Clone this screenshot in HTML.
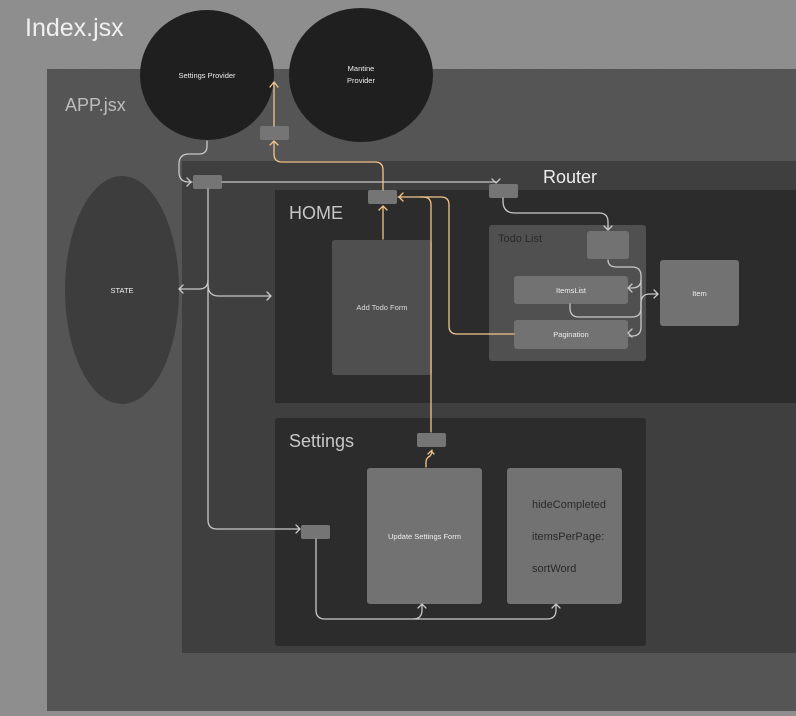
<!DOCTYPE html>
<html><head><meta charset="utf-8"><style>
html,body{margin:0;padding:0;}
body{width:796px;height:716px;position:relative;overflow:hidden;background:#8e8e8e;
background-image:radial-gradient(#858585 0.7px,transparent 0.8px);background-size:12px 12px;
font-family:"Liberation Sans",sans-serif;}
.a{position:absolute;box-sizing:border-box;}
.t{position:absolute;white-space:nowrap;}
.box{border-radius:3px;background:#727272;}
.sm{border-radius:2px;background:#757575;}
.lbl{display:flex;align-items:center;justify-content:center;color:#eee;font-size:7.5px;text-align:center;}
</style></head><body>
<div class="t" style="left:25px;top:14px;font-size:25px;color:#f0f0f0;">Index.jsx</div>
<div class="a" style="left:47px;top:69px;width:760px;height:642px;background:#555;"></div>
<div class="t" style="left:65px;top:95px;font-size:18px;color:#bdbdbd;">APP.jsx</div>
<div class="a" style="left:182px;top:161px;width:620px;height:492px;background:#3f3f3f;"></div>
<div class="t" style="left:543px;top:167px;font-size:18px;color:#eee;">Router</div>
<div class="a" style="left:275px;top:190px;width:530px;height:213px;background:#2c2c2c;"></div>
<div class="t" style="left:289px;top:203px;font-size:18px;color:#c8c8c8;">HOME</div>
<div class="a" style="left:275px;top:418px;width:371px;height:228px;background:#2c2c2c;border-radius:3px;"></div>
<div class="t" style="left:289px;top:431px;font-size:18px;color:#c8c8c8;">Settings</div>

<div class="a lbl" style="left:140px;top:10px;width:134px;height:130px;border-radius:50%;background:#1f1f1f;">Settings Provider</div>
<div class="a lbl" style="left:289px;top:8px;width:144px;height:134px;border-radius:50%;background:#1f1f1f;line-height:1.6;">Mantine<br>Provider</div>
<div class="a lbl" style="left:65px;top:176px;width:114px;height:228px;border-radius:50%;background:#3d3d3d;">STATE</div>

<div class="a box lbl" style="left:332px;top:240px;width:100px;height:135px;background:#4f4f4f;color:#ddd;">Add Todo Form</div>
<div class="a" style="left:489px;top:225px;width:157px;height:136px;background:#505050;border-radius:3px;"></div>
<div class="t" style="left:498px;top:233px;font-size:11px;color:#2a2a2a;">Todo List</div>
<div class="a box" style="left:587px;top:231px;width:42px;height:28px;"></div>
<div class="a box lbl" style="left:514px;top:276px;width:114px;height:28px;">ItemsList</div>
<div class="a box lbl" style="left:514px;top:320px;width:114px;height:29px;">Pagination</div>
<div class="a box lbl" style="left:660px;top:260px;width:79px;height:66px;">Item</div>
<div class="a box lbl" style="left:367px;top:468px;width:115px;height:136px;">Update Settings Form</div>
<div class="a box" style="left:507px;top:468px;width:115px;height:136px;"></div>
<div class="t" style="left:532px;top:499px;font-size:11px;color:#2a2a2a;">hideCompleted</div>
<div class="t" style="left:532px;top:531px;font-size:11px;color:#2a2a2a;">itemsPerPage:</div>
<div class="t" style="left:532px;top:563px;font-size:11px;color:#2a2a2a;">sortWord</div>

<div class="a sm" style="left:260px;top:126px;width:29px;height:14px;"></div>
<div class="a sm" style="left:193px;top:175px;width:29px;height:14px;"></div>
<div class="a sm" style="left:368px;top:190px;width:29px;height:14px;"></div>
<div class="a sm" style="left:489px;top:184px;width:29px;height:14px;"></div>
<div class="a sm" style="left:417px;top:433px;width:29px;height:14px;"></div>
<div class="a sm" style="left:301px;top:525px;width:29px;height:14px;"></div>

<svg class="a" style="left:0;top:0" width="796" height="716" fill="none" stroke-width="1.3" stroke-linecap="round" stroke-linejoin="round">
<g stroke="#c8c8c8">
<path d="M207 141 v5 q0 8 -8 8 h-10 q-10 0 -10 10 v8 q0 10 10 10 h3"/><path d="M187 178 l4 4 l-4 4"/>
<path d="M222 182 H496"/><path d="M492 179 l4 4 l4 -4"/>
<path d="M208 189 V520 q0 9 9 9 h83"/><path d="M296 525 l4 4 l-4 4"/>
<path d="M208 280 q0 9 -9 9 h-20"/><path d="M183 285 l-4 4 l4 4"/>
<path d="M208 285 q0 11 11 11 h52"/><path d="M267 292 l4 4 l-4 4"/>
<path d="M503 198 v3 q0 12 12 12 h84 q9 0 9 9 v8"/><path d="M604 226 l4 4 l4 -4"/>
<path d="M608 260 q0 7 9 7 h15 q9 0 9 9 v51 q0 9 -9 9 h-3"/><path d="M632 284 l-4 4 l4 4"/><path d="M632 329 l-4 4 l4 4"/>
<path d="M641 280 q0 8 -9 8 h-3"/>
<path d="M570 304 v4 q0 9 9 9 h53 q9 0 9 -9 v-5 q0 -9 9 -9 h8"/><path d="M654 290 l4 4 l-4 4"/>
<path d="M316 539 V610 q0 9 9 9 h222 q9 0 9 -9 v-5"/><path d="M552 608 l4 -4 l4 4"/>
<path d="M413 619 q9 0 9 -9 v-5"/><path d="M418 608 l4 -4 l4 4"/>
</g>
<g stroke="#f2c58d">
<path d="M274 126 V82"/><path d="M270 87 l4 -5 l4 5"/>
<path d="M383 190 V170 q0 -8 -8 -8 h-93 q-8 0 -8 -8 v-12"/><path d="M270 145 l4 -4 l4 4"/>
<path d="M383 239 V206"/><path d="M379 210 l4 -4 l4 4"/>
<path d="M398 197 h43 q8 0 8 8 V326 q0 8 8 8 h57"/><path d="M403 193 l-4 4 l4 4"/>
<path d="M420 197 h3 q8 0 8 8 V432"/>
<path d="M426 467 v-5 q0 -4 4 -6 q2 -2 2 -6"/><path d="M428 454 l3 -3 l3 3"/>
</g>
</svg>
</body></html>
